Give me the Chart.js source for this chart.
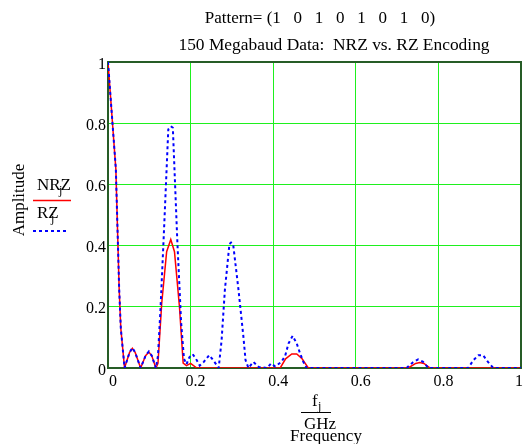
<!DOCTYPE html>
<html>
<head>
<meta charset="UTF-8">
<title>NRZ vs. RZ Encoding</title>
<script src="https://cdn.jsdelivr.net/npm/chart.js"></script>
<style>
  body { margin: 0; background: #fff; }
</style>
</head>
<body>
<canvas id="specChart" width="527" height="444"></canvas>
<script>
// spectrum samples, frequency in GHz
const nrzFreq = [0, 0.019, 0.027, 0.031, 0.038, 0.040, 0.052, 0.059, 0.066, 0.079,
  0.091, 0.099, 0.106, 0.116, 0.121, 0.130, 0.142, 0.152, 0.161, 0.173, 0.182, 0.190,
  0.200, 0.215, 0.417, 0.430, 0.445, 0.457, 0.470, 0.485, 0.727, 0.745, 0.755, 0.765,
  0.780, 1.0];
const nrzAmp = [1.0, 0.65, 0.26, 0.13, 0.03, 0.0, 0.05, 0.064, 0.05, 0.0,
  0.04, 0.052, 0.04, 0.0, 0.015, 0.21, 0.38, 0.42, 0.38, 0.20, 0.016, 0.008,
  0.015, 0.0, 0.0, 0.03, 0.046, 0.046, 0.03, 0.0, 0.0, 0.015, 0.018, 0.015,
  0.0, 0.0];

const rzFreq = [0, 0.019, 0.027, 0.031, 0.038, 0.040, 0.052, 0.059, 0.066, 0.079,
  0.091, 0.099, 0.106, 0.116, 0.121, 0.127, 0.1356, 0.146, 0.152, 0.157, 0.168, 0.177,
  0.184, 0.190, 0.197, 0.205, 0.213, 0.222, 0.232, 0.245, 0.255, 0.264, 0.268, 0.275,
  0.283, 0.294, 0.298, 0.303, 0.316, 0.328, 0.333, 0.340, 0.352, 0.365, 0.385, 0.395,
  0.405, 0.420, 0.429, 0.437, 0.447, 0.457, 0.465, 0.473, 0.481, 0.723, 0.738, 0.751,
  0.763, 0.776, 0.872, 0.885, 0.897, 0.908, 0.920, 0.933, 1.0];
const rzAmp = [1.0, 0.65, 0.26, 0.13, 0.03, 0.0, 0.05, 0.066, 0.05, 0.0,
  0.04, 0.054, 0.04, 0.0, 0.04, 0.19, 0.45, 0.78, 0.79, 0.785, 0.41, 0.15,
  0.03, 0.012, 0.035, 0.045, 0.03, 0.008, 0.02, 0.042, 0.025, 0.008, 0.0, 0.09,
  0.255, 0.405, 0.41, 0.405, 0.255, 0.10, 0.026, 0.0, 0.02, 0.003, 0.0, 0.015,
  0.005, 0.02, 0.04, 0.08, 0.105, 0.08, 0.048, 0.02, 0.0, 0.0, 0.018, 0.028,
  0.02, 0.0, 0.0, 0.026, 0.042, 0.042, 0.02, 0.0, 0.0];

const xTicks = [0, 0.2, 0.4, 0.6, 0.8, 1];
const yTicks = [0, 0.2, 0.4, 0.6, 0.8, 1];

const SERIF = '"Liberation Serif", "Times New Roman", serif';
const GRID = 'rgb(30,240,30)';
const FRAME = '#265c26';

function toPoints(xs, ys) {
  return xs.map((x, i) => ({ x: x, y: ys[i] }));
}

// frame, tick labels, titles, axis captions and the little legend left of the plot
const decorations = {
  id: 'decorations',
  beforeDatasetsDraw(chart) {
    const { ctx, chartArea: a } = chart;
    ctx.save();
    ctx.strokeStyle = FRAME;
    ctx.lineWidth = 2;
    ctx.strokeRect(a.left, a.top, a.right - a.left, a.bottom - a.top);
    ctx.restore();
  },
  afterDraw(chart) {
    const { ctx, chartArea: a } = chart;
    const xs = chart.scales.x, ys = chart.scales.y;
    ctx.save();
    ctx.fillStyle = '#000';

    // tick labels
    ctx.font = '16px ' + SERIF;
    ctx.textBaseline = 'alphabetic';
    xTicks.forEach(v => {
      const s = String(v);
      const w = ctx.measureText(s).width;
      let cx = xs.getPixelForValue(v) + 5;
      cx = Math.max(a.left + w / 2 + 1, Math.min(cx, a.right + 2 - w / 2));
      ctx.textAlign = 'center';
      ctx.fillText(s, cx, a.bottom + 18);
    });
    ctx.textAlign = 'right';
    yTicks.forEach(v => {
      ctx.fillText(String(v), a.left - 2, ys.getPixelForValue(v) + 6.5);
    });

    // titles
    ctx.font = '17px ' + SERIF;
    ctx.textAlign = 'center';
    ctx.fillText('Pattern= (1   0   1   0   1   0   1   0)', 320, 23);
    ctx.font = '17.4px ' + SERIF;
    ctx.fillText('150 Megabaud Data:  NRZ vs. RZ Encoding', 334, 50);
    ctx.font = '17px ' + SERIF;

    // y caption
    ctx.save();
    ctx.translate(20, 200);
    ctx.rotate(-Math.PI / 2);
    ctx.textBaseline = 'middle';
    ctx.fillText('Amplitude', 0, 0);
    ctx.restore();

    // x caption: f_j / GHz, Frequency
    ctx.textAlign = 'left';
    ctx.fillText('f', 312, 406);
    ctx.font = '12px ' + SERIF;
    ctx.fillText('j', 318, 410);
    ctx.fillRect(301, 412, 30, 1);
    ctx.font = '17px ' + SERIF;
    ctx.textAlign = 'center';
    ctx.fillText('GHz', 320, 429);
    ctx.fillText('Frequency', 326, 441);

    // legend
    const ds = chart.data.datasets;
    const items = [
      { name: 'NRZ', sub: 59, base: 190, line: 200.5, x1: 71, set: ds[0] },
      { name: 'RZ', sub: 51, base: 218, line: 231, x1: 66, set: ds[1] }
    ];
    items.forEach(it => {
      ctx.textAlign = 'left';
      ctx.font = '17px ' + SERIF;
      ctx.fillText(it.name, 37, it.base);
      ctx.font = '12px ' + SERIF;
      ctx.fillText('j', it.sub, it.base + 4);
      ctx.beginPath();
      ctx.strokeStyle = it.set.borderColor;
      ctx.lineWidth = it.set.borderWidth;
      ctx.setLineDash(it.set.borderDash || []);
      ctx.moveTo(33, it.line);
      ctx.lineTo(it.x1, it.line);
      ctx.stroke();
    });
    ctx.restore();
  }
};

new Chart(document.getElementById('specChart'), {
  type: 'line',
  data: {
    datasets: [
      {
        label: 'NRZ',
        data: toPoints(nrzFreq, nrzAmp),
        borderColor: '#ff0000',
        borderWidth: 1.5,
        order: 1
      },
      {
        label: 'RZ',
        data: toPoints(rzFreq, rzAmp),
        borderColor: '#0000ff',
        borderWidth: 2,
        borderDash: [3, 3],
        order: 0
      }
    ]
  },
  options: {
    responsive: false,
    animation: false,
    layout: { padding: { top: 62, right: 6, left: 0, bottom: 0 } },
    elements: { point: { radius: 0 }, line: { tension: 0 } },
    plugins: { legend: { display: false }, tooltip: { enabled: false } },
    scales: {
      x: {
        type: 'linear',
        min: 0,
        max: 1,
        afterBuildTicks: s => { s.ticks = xTicks.map(v => ({ value: v })); },
        afterFit: s => { s.height = 76; },
        ticks: { display: false },
        grid: { color: GRID, lineWidth: 1, drawTicks: false },
        border: { display: false }
      },
      y: {
        min: 0,
        max: 1,
        afterBuildTicks: s => { s.ticks = yTicks.map(v => ({ value: v })); },
        afterFit: s => { s.width = 108; },
        ticks: { display: false },
        grid: { color: GRID, lineWidth: 1, drawTicks: false },
        border: { display: false }
      }
    }
  },
  plugins: [decorations]
});
</script>
</body>
</html>
